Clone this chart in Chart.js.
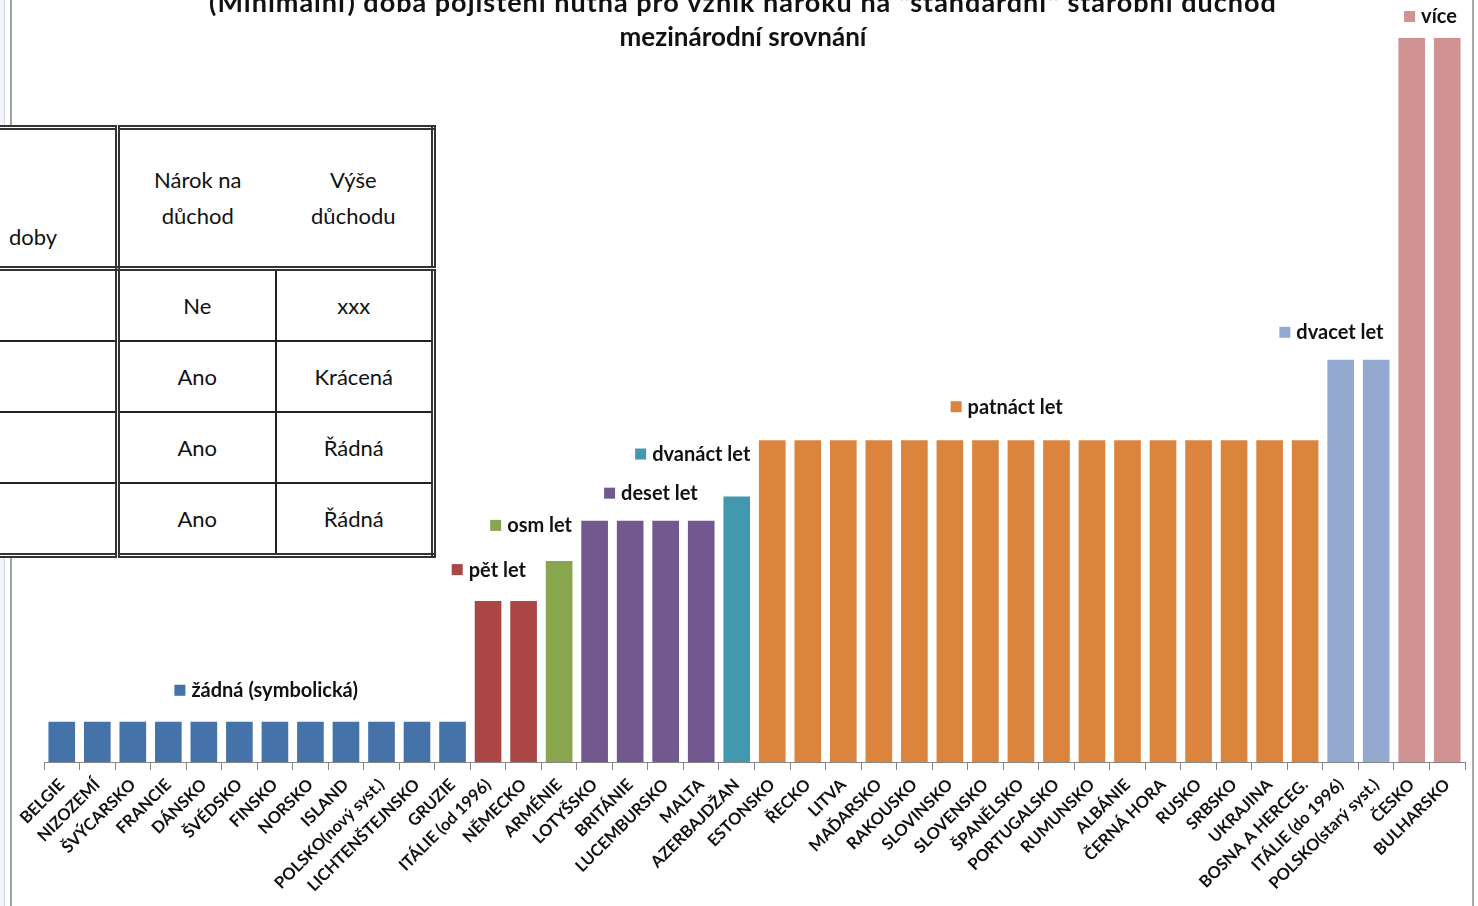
<!DOCTYPE html>
<html lang="cs">
<head>
<meta charset="utf-8">
<title>Doba pojištění</title>
<script src="https://cdn.jsdelivr.net/npm/chart.js@4/dist/chart.umd.min.js"></script>
<style>
  html, body { margin: 0; padding: 0; background: #fff; overflow: hidden; }
  #wrap { position: relative; width: 1478px; height: 906px; }
  #c { position: absolute; left: 0; top: 0; }
  .frame { position: absolute; top: 0; height: 906px; }
  #tab {
    position: absolute; left: -60px; top: 125px; width: 491px;
    border-collapse: collapse; border: 5px double #333;
    font-family: Lato, sans-serif; font-size: 22px; color: #111;
    background: #fff; table-layout: fixed;
  }
  #tab td { border: 2px solid #222; text-align: center; height: 69px; padding: 0; }
  #tab td.c1 { border-right: 5px double #333; }
  #tab tr.head td { border-bottom: 5px double #333; height: 136px; }
  #tab tr.head td.doby { text-align: left; vertical-align: top; padding: 89px 0 0 64px; height: 47px; line-height: 36px; }
  .hh { display: flex; line-height: 36px; }
  .hh div { flex: 1; }
</style>
</head>
<body>
<div id="wrap">
  <canvas id="c" width="1478" height="906"></canvas>
  <div class="frame" style="left:0;width:4px;background:#f3f4f8"></div>
  <div class="frame" style="left:4px;width:1px;background:#cfd6ea"></div>
  <div class="frame" style="left:10px;width:2px;background:#a2a2a2"></div>
  <div class="frame" style="left:1472px;width:2px;background:#a8a8a8"></div>
  <table id="tab">
    <col style="width:175px"><col style="width:158px"><col style="width:158px">
    <tr class="head">
      <td class="c1 doby">doby</td>
      <td colspan="2"><div class="hh"><div>Nárok na<br>důchod</div><div>Výše<br>důchodu</div></div></td>
    </tr>
    <tr><td class="c1"></td><td>Ne</td><td>xxx</td></tr>
    <tr><td class="c1"></td><td>Ano</td><td>Krácená</td></tr>
    <tr><td class="c1"></td><td>Ano</td><td>Řádná</td></tr>
    <tr><td class="c1"></td><td>Ano</td><td>Řádná</td></tr>
  </table>
</div>
<script>
// Data
const titleLines = [
  '(Minimální) doba pojištění nutná pro vznik nároku na "standardní" starobní důchod',
  'mezinárodní srovnání'
];

const countries = [
  'BELGIE', 'NIZOZEMÍ', 'ŠVÝCARSKO', 'FRANCIE', 'DÁNSKO', 'ŠVÉDSKO', 'FINSKO', 'NORSKO',
  'ISLAND', 'POLSKO(nový syst.)', 'LICHTENŠTEJNSKO', 'GRUZIE',
  'ITÁLIE (od 1996)', 'NĚMECKO',
  'ARMÉNIE',
  'LOTYŠSKO', 'BRITÁNIE', 'LUCEMBURSKO', 'MALTA',
  'AZERBAJDŽAN',
  'ESTONSKO', 'ŘECKO', 'LITVA', 'MAĎARSKO', 'RAKOUSKO', 'SLOVINSKO', 'SLOVENSKO', 'ŠPANĚLSKO',
  'PORTUGALSKO', 'RUMUNSKO', 'ALBÁNIE', 'ČERNÁ HORA', 'RUSKO', 'SRBSKO', 'UKRAJINA', 'BOSNA A HERCEG.',
  'ITÁLIE (do 1996)', 'POLSKO(starý syst.)',
  'ČESKO', 'BULHARSKO'
];

// bar heights as drawn (relative units)
const heights = [
  1, 1, 1, 1, 1, 1, 1, 1, 1, 1, 1, 1,
  4, 4,
  5,
  6, 6, 6, 6,
  6.6,
  8, 8, 8, 8, 8, 8, 8, 8, 8, 8, 8, 8, 8, 8, 8, 8,
  10, 10,
  18, 18
];

// series index of each country
const seriesOf = [
  0, 0, 0, 0, 0, 0, 0, 0, 0, 0, 0, 0,
  1, 1,
  2,
  3, 3, 3, 3,
  4,
  5, 5, 5, 5, 5, 5, 5, 5, 5, 5, 5, 5, 5, 5, 5, 5,
  6, 6,
  7, 7
];

const seriesNames = ['žádná (symbolická)', 'pět let', 'osm let', 'deset let', 'dvanáct let', 'patnáct let', 'dvacet let', 'více'];

// Styles
const seriesColors = ['#4672AA', '#AA4643', '#89A54E', '#71588F', '#4198AF', '#DB843D', '#93A9CF', '#D19392'];
// label block shift from group centre [dx, height above bar top]
const labelShift = [[9, 32], [-17, 32], [-28, 36], [3, 28], [-44, 43], [-32, 34], [-27, 28], [1, 22]];

const datasets = seriesNames.map((name, s) => ({
  label: name,
  data: heights.map((v, i) => seriesOf[i] === s ? v : null),
  backgroundColor: seriesColors[s],
  borderWidth: 0,
  barPercentage: 0.75,
  categoryPercentage: 1
}));

// Title and series labels next to the bars
const labelPlugin = {
  id: 'labels',
  afterDraw(chart) {
    const ctx = chart.ctx;
    const x = chart.scales.x;
    const y = chart.scales.y;
    ctx.save();
    ctx.fillStyle = '#111';
    ctx.textAlign = 'center';
    ctx.textBaseline = 'alphabetic';
    ctx.font = 'bold 27px Lato';
    ctx.letterSpacing = '1px';
    ctx.fillText(titleLines[0], 743, 12);
    ctx.letterSpacing = '0px';
    ctx.font = 'bold 26px Lato';
    ctx.fillText(titleLines[1], 743, 46);

    ctx.font = 'bold 20px Lato';
    ctx.textAlign = 'left';
    ctx.textBaseline = 'middle';
    seriesNames.forEach((name, s) => {
      const idx = [];
      seriesOf.forEach((g, i) => { if (g === s) idx.push(i); });
      const first = x.getPixelForValue(idx[0]);
      const last = x.getPixelForValue(idx[idx.length - 1]);
      const top = y.getPixelForValue(heights[idx[0]]);
      const w = 11 + 6 + ctx.measureText(name).width;
      const cx = (first + last) / 2 + labelShift[s][0];
      const cy = top - labelShift[s][1];
      const left = cx - w / 2;
      ctx.fillStyle = seriesColors[s];
      ctx.fillRect(left, cy - 5, 11, 11);
      ctx.fillStyle = '#111';
      ctx.fillText(name, left + 17, cy + 1);
    });
    ctx.restore();
  }
};

Chart.defaults.font.family = 'Lato';

new Chart(document.getElementById('c'), {
  type: 'bar',
  data: { labels: countries, datasets },
  options: {
    responsive: false,
    animation: false,
    layout: { padding: { top: 38, left: 44, right: 13, bottom: 0 } },
    plugins: {
      legend: { display: false },
      tooltip: { enabled: false }
    },
    scales: {
      x: {
        stacked: true,
        afterFit(scale) { scale.height = 144; },
        grid: { drawOnChartArea: false, drawTicks: true, tickLength: 8, color: '#868686', offset: true },
        border: { color: '#868686', width: 1 },
        ticks: {
          autoSkip: false,
          minRotation: 45,
          maxRotation: 45,
          padding: 5,
          color: '#111',
          font: { size: 16.5, weight: 'bold' }
        }
      },
      y: {
        stacked: true,
        display: false,
        min: 0,
        max: 18
      }
    }
  },
  plugins: [labelPlugin]
});
</script>
</body>
</html>
